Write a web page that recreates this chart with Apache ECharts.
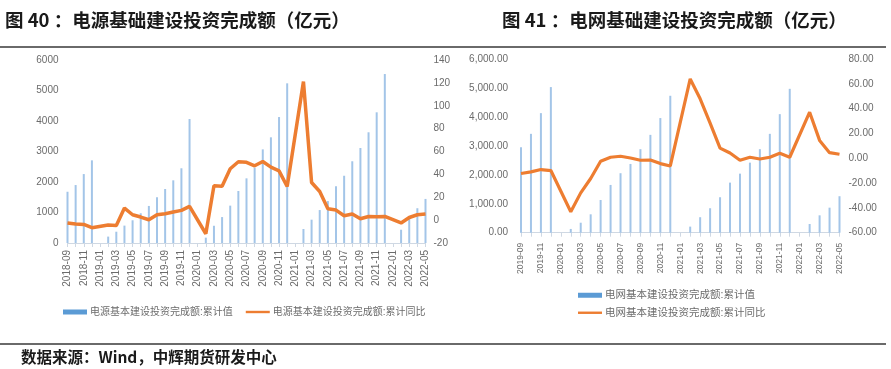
<!DOCTYPE html>
<html>
<head>
<meta charset="utf-8">
<script src="https://cdn.jsdelivr.net/npm/echarts@6/dist/echarts.min.js"></script>
<style>
html,body{margin:0;padding:0;background:#fff;}
#main{width:891px;height:369px;}
</style>
</head>
<body>
<div id="main"></div>
<script>
// ---- Chart 40: 电源 ----
const catsA = ['2018-09','2018-10','2018-11','2018-12',
 '2019-01','2019-02','2019-03','2019-04','2019-05','2019-06','2019-07','2019-08','2019-09','2019-10','2019-11','2019-12',
 '2020-01','2020-02','2020-03','2020-04','2020-05','2020-06','2020-07','2020-08','2020-09','2020-10','2020-11','2020-12',
 '2021-01','2021-02','2021-03','2021-04','2021-05','2021-06','2021-07','2021-08','2021-09','2021-10','2021-11','2021-12',
 '2022-01','2022-02','2022-03','2022-04','2022-05'];
const barA = [1680,1900,2260,2710,
 null,210,370,570,745,975,1215,1500,1770,2055,2450,4065,
 null,175,565,850,1225,1705,2120,2470,3070,3465,4130,5235,
 null,460,765,1080,1375,1860,2205,2680,3115,3630,4285,5540,
 null,435,810,1140,1445];
const lineA = [-2.5,-3.4,-3.8,-6.6,
 null,-4.3,-4.6,10.5,4.7,2.7,0.3,4.7,5.6,7.1,8.5,12.0,
 null,-11.9,30.0,29.7,44.9,51.0,50.5,47.5,51.2,46.3,43.1,29.4,
 null,121.1,32.9,25.0,9.9,8.8,3.8,5.3,1.2,3.2,2.9,3.2,
 null,-2.5,2.3,4.7,5.3];
const nameBarA = '电源基本建设投资完成额:累计值';
const nameLineA = '电源基本建设投资完成额:累计同比';

// ---- Chart 41: 电网 ----
const catsB = ['2019-09','2019-10','2019-11','2019-12',
 '2020-01','2020-02','2020-03','2020-04','2020-05','2020-06','2020-07','2020-08','2020-09','2020-10','2020-11','2020-12',
 '2021-01','2021-02','2021-03','2021-04','2021-05','2021-06','2021-07','2021-08','2021-09','2021-10','2021-11','2021-12',
 '2022-01','2022-02','2022-03','2022-04','2022-05'];
const barB = [2955,3415,4130,5030,
 null,130,345,635,1130,1650,2055,2375,2885,3380,3960,4730,
 null,210,535,845,1225,1730,2040,2420,2885,3415,4095,4970,
 null,300,600,865,1260];
const lineB = [-12.3,-11.0,-9.1,-9.9,
 null,-43.1,-27.9,-16.3,-2.4,0.8,1.6,0.2,-1.6,-1.4,-4.3,-6.2,
 null,63.9,47.9,28.3,8.2,4.2,-1.6,0.8,-0.6,0.8,4.0,0.8,
 null,37.1,14.4,4.5,3.2];
const nameBarB = '电网基本建设投资完成额:累计值';
const nameLineB = '电网基本建设投资完成额:累计同比';

const titleA = '图 40 ：电源基础建设投资完成额（亿元）';
const titleB = '图 41 ：电网基础建设投资完成额（亿元）';
const sourceText = '数据来源：Wind，中辉期货研发中心';

const labelColor = '#6b6b6b';
const axisColor = '#cfd8e3';
const barColor = '#a3c5e8';
const lineColor = '#ed7d31';
const cjk = '"Liberation Sans", "Noto Sans CJK SC", sans-serif';
const titleFont = '"Noto Sans CJK SC", sans-serif';
// thin line legend icon: bounding box 24x5, visible stroke ~2.4px in the middle
const lineIcon = 'path://M0,0L0,0M0,1.3H24V3.7H0ZM24,5L24,5';

function fmt2(v){
  return v.toLocaleString('en-US',{minimumFractionDigits:2,maximumFractionDigits:2});
}
function fmtPlain(v){ return String(v); }

const chart = echarts.init(document.getElementById('main'));
chart.setOption({
  animation:false,
  backgroundColor:'#fff',
  title:[
    {text:titleA,left:0,top:6,textStyle:{fontFamily:titleFont,fontSize:18.5,fontWeight:'bold',color:'#1a1a1a'}},
    {text:titleB,left:497,top:6,textStyle:{fontFamily:titleFont,fontSize:18.5,fontWeight:'bold',color:'#1a1a1a'}},
    {text:sourceText,left:16,top:344,textStyle:{fontFamily:titleFont,fontSize:15.5,fontWeight:'bold',color:'#1a1a1a'}}
  ],
  graphic:[
    {type:'line',shape:{x1:0,y1:47,x2:886,y2:47},style:{stroke:'#6a6a6a',lineWidth:2}},
    {type:'line',shape:{x1:0,y1:344,x2:886,y2:344},style:{stroke:'#6a6a6a',lineWidth:2}}
  ],
  legend:[
    {left:58,top:302,itemWidth:24,itemHeight:5,itemGap:13,
     textStyle:{fontFamily:cjk,fontSize:10,color:labelColor,padding:[0,0,0,-2]},
     data:[{name:nameBarA,icon:'rect',itemStyle:{color:'#5b9bd5'}},
           {name:nameLineA,icon:lineIcon,itemStyle:{color:lineColor}}]},
    {left:573,top:285,orient:'vertical',itemWidth:24,itemHeight:5,itemGap:7,
     textStyle:{fontFamily:cjk,fontSize:10.5,color:labelColor,padding:[0,0,0,-2]},
     data:[{name:nameBarB,icon:'rect',itemStyle:{color:'#5b9bd5'}},
           {name:nameLineB,icon:lineIcon,itemStyle:{color:lineColor}}]}
  ],
  grid:[
    {left:67.5,right:465.5,top:60,bottom:126},
    {left:521,right:51.5,top:59,bottom:136.3}
  ],
  xAxis:[
    {type:'category',gridIndex:0,data:catsA,boundaryGap:false,
     axisLine:{lineStyle:{color:axisColor}},
     axisTick:{interval:0,length:4,lineStyle:{color:axisColor}},
     axisLabel:{interval:1,rotate:90,margin:7,fontFamily:cjk,fontSize:10,color:labelColor}},
    {type:'category',gridIndex:1,data:catsB,boundaryGap:false,
     axisLine:{lineStyle:{color:axisColor}},
     axisTick:{interval:0,length:4,lineStyle:{color:axisColor}},
     axisLabel:{interval:1,rotate:90,margin:10,fontFamily:cjk,fontSize:8.5,color:labelColor}}
  ],
  yAxis:[
    {type:'value',gridIndex:0,min:0,max:6000,interval:1000,splitLine:{show:false},
     axisLine:{show:false},axisTick:{show:false},
     axisLabel:{margin:9,fontFamily:cjk,fontSize:10,color:labelColor,formatter:fmtPlain}},
    {type:'value',gridIndex:0,position:'right',min:-20,max:140,interval:20,splitLine:{show:false},
     axisLine:{show:false},axisTick:{show:false},
     axisLabel:{margin:8,fontFamily:cjk,fontSize:10,color:labelColor,formatter:fmtPlain}},
    {type:'value',gridIndex:1,min:0,max:6000,interval:1000,splitLine:{show:false},
     axisLine:{show:false},axisTick:{show:false},
     axisLabel:{margin:13,fontFamily:cjk,fontSize:10,color:labelColor,formatter:fmt2}},
    {type:'value',gridIndex:1,position:'right',min:-60,max:80,interval:20,splitLine:{show:false},
     axisLine:{show:false},axisTick:{show:false},
     axisLabel:{margin:9,fontFamily:cjk,fontSize:10,color:labelColor,formatter:fmt2}}
  ],
  series:[
    {name:nameBarA,type:'bar',xAxisIndex:0,yAxisIndex:0,data:barA,barWidth:2,itemStyle:{color:barColor}},
    {name:nameLineA,type:'line',xAxisIndex:0,yAxisIndex:1,data:lineA,connectNulls:true,symbol:'none',
     lineStyle:{color:lineColor,width:3.5},itemStyle:{color:lineColor}},
    {name:nameBarB,type:'bar',xAxisIndex:1,yAxisIndex:2,data:barB,barWidth:2,itemStyle:{color:barColor}},
    {name:nameLineB,type:'line',xAxisIndex:1,yAxisIndex:3,data:lineB,connectNulls:true,symbol:'none',
     lineStyle:{color:lineColor,width:3.2},itemStyle:{color:lineColor}}
  ]
});
</script>
</body>
</html>
